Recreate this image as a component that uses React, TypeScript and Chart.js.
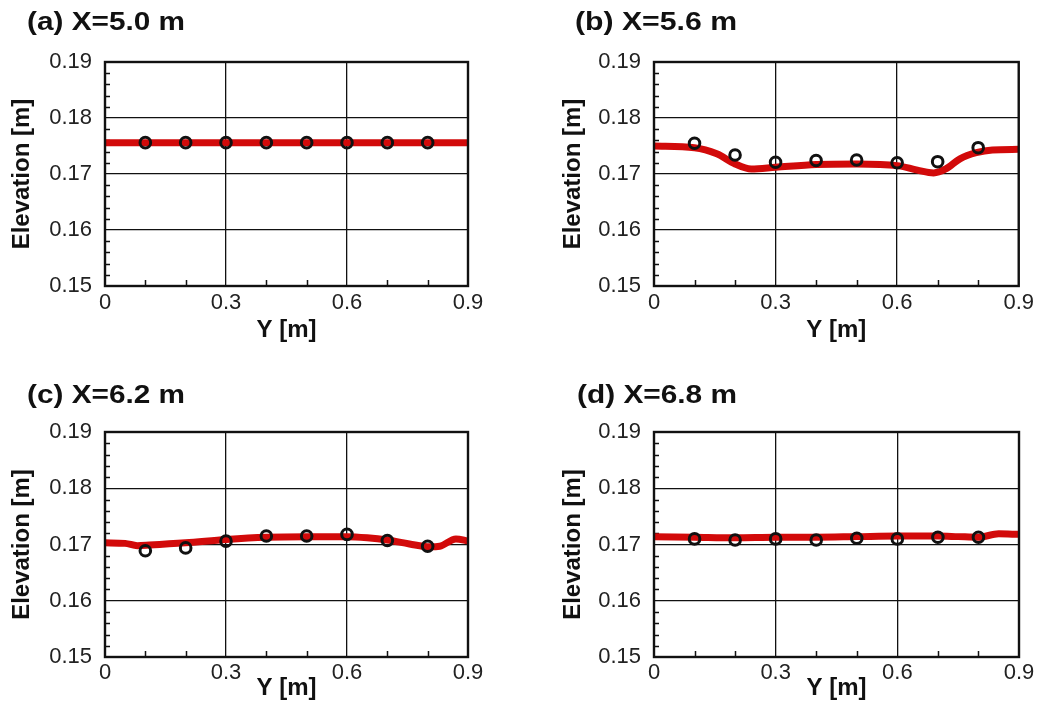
import React, { useEffect, useRef } from "react";
import { Chart, registerables } from "chart.js";

Chart.register(...registerables);

// ---------- data ----------
const panelTitles = ["(a) X=5.0 m", "(b) X=5.6 m", "(c) X=6.2 m", "(d) X=6.8 m"];
const xAxisTitle = "Y [m]";
const yAxisTitle = "Elevation [m]";

const xTicks = [0, 0.3, 0.6, 0.9];
const xTickLabels = ["0", "0.3", "0.6", "0.9"];
const yTicks = [0.15, 0.16, 0.17, 0.18, 0.19];
const yTickLabels = ["0.15", "0.16", "0.17", "0.18", "0.19"];
const xMinorTicks = [0.1, 0.2, 0.4, 0.5, 0.7, 0.8];
const yMinorTicks = [
  0.152, 0.154, 0.156, 0.158, 0.162, 0.164, 0.166, 0.168,
  0.172, 0.174, 0.176, 0.178, 0.182, 0.184, 0.186, 0.188,
];

// measured (circles)
const obsY = [0.1, 0.2, 0.3, 0.4, 0.5, 0.6, 0.7, 0.8];
const obsA = [0.1756, 0.1756, 0.1756, 0.1756, 0.1756, 0.1756, 0.1756, 0.1756];
const obsB = [0.1755, 0.1734, 0.1721, 0.1724, 0.1725, 0.172, 0.1722, 0.1747];
const obsC = [0.1689, 0.1694, 0.1706, 0.1715, 0.1715, 0.1718, 0.1707, 0.1697];
const obsD = [0.171, 0.1708, 0.171, 0.1708, 0.1711, 0.171, 0.1713, 0.1713];

// simulated (red line)
const simYA = [0, 0.3, 0.6, 0.9];
const simA = [0.1756, 0.1756, 0.1756, 0.1756];
const simYB = [0, 0.1, 0.155, 0.2, 0.24, 0.3, 0.4, 0.5, 0.6, 0.65, 0.69, 0.72, 0.755, 0.795, 0.835, 0.9];
const simB = [0.175, 0.1747, 0.1736, 0.1718, 0.1709, 0.1712, 0.1717, 0.1718, 0.1715, 0.1707, 0.1702, 0.1709, 0.1727, 0.1738, 0.1743, 0.1744];
const simYC = [0, 0.05, 0.08, 0.11, 0.2, 0.3, 0.4, 0.5, 0.6, 0.65, 0.7, 0.755, 0.805, 0.83, 0.87, 0.9];
const simC = [0.1703, 0.1702, 0.1698, 0.1699, 0.1703, 0.1709, 0.1713, 0.1714, 0.1714, 0.1712, 0.1708, 0.1701, 0.1696, 0.1697, 0.171, 0.1706];
const simYD = [0, 0.1, 0.2, 0.3, 0.4, 0.5, 0.6, 0.7, 0.75, 0.8, 0.85, 0.9];
const simD = [0.1714, 0.1713, 0.1712, 0.1713, 0.1713, 0.1714, 0.1715, 0.1715, 0.1714, 0.1713, 0.1719, 0.1718];

const obsSeries = [obsA, obsB, obsC, obsD];
const simXSeries = [simYA, simYB, simYC, simYD];
const simSeries = [simA, simB, simC, simD];

// ---------- layout (pixels) ----------
const layouts = [
  { left: 0, top: 0, w: 520, h: 355, plotL: 105, plotR: 468, plotT: 62, plotB: 286, titleX: 27, titleY: 23, titleW: 158, yTitleX: 22, xTickPad: 6, xTitleY: 330 },
  { left: 520, top: 0, w: 520, h: 355, plotL: 134, plotR: 499, plotT: 62, plotB: 286, titleX: 55, titleY: 23, titleW: 162, yTitleX: 53, xTickPad: 6, xTitleY: 330 },
  { left: 0, top: 355, w: 520, h: 360, plotL: 105, plotR: 468, plotT: 77, plotB: 302, titleX: 27, titleY: 41, titleW: 158, yTitleX: 22, xTickPad: 5, xTitleY: 333 },
  { left: 520, top: 355, w: 520, h: 360, plotL: 134, plotR: 499, plotT: 77, plotB: 302, titleX: 57, titleY: 41, titleW: 160, yTitleX: 53, xTickPad: 5, xTitleY: 333 },
];

const FONT = '"Liberation Sans", Arial, Helvetica, sans-serif';

function Panel({ idx }: { idx: number }) {
  const ref = useRef<HTMLCanvasElement | null>(null);
  const L = layouts[idx];

  useEffect(() => {
    if (!ref.current) return;
    const obs = obsSeries[idx];
    const simX = simXSeries[idx];
    const sim = simSeries[idx];

    const decor = {
      id: "decor" + idx,
      beforeDatasetsDraw(chart: any) {
        const { ctx, chartArea } = chart;
        const xs = chart.scales.x;
        const ys = chart.scales.y;
        ctx.save();
        ctx.strokeStyle = "#111";
        ctx.lineWidth = 1.5;
        ctx.beginPath();
        yMinorTicks.forEach((v) => {
          const y = Math.round(ys.getPixelForValue(v)) + 0.5;
          ctx.moveTo(chartArea.left, y);
          ctx.lineTo(chartArea.left + 5, y);
        });
        xMinorTicks.forEach((v) => {
          const x = Math.round(xs.getPixelForValue(v)) + 0.5;
          ctx.moveTo(x, chartArea.bottom);
          ctx.lineTo(x, chartArea.bottom - 6);
        });
        ctx.stroke();
        ctx.restore();
      },
      afterDatasetsDraw(chart: any) {
        const { ctx, chartArea } = chart;
        ctx.save();
        ctx.strokeStyle = "#111";
        ctx.lineWidth = 2.4;
        ctx.strokeRect(chartArea.left, chartArea.top, chartArea.right - chartArea.left, chartArea.bottom - chartArea.top);
        ctx.restore();
      },
      afterDraw(chart: any) {
        const { ctx } = chart;
        ctx.save();
        ctx.font = "bold 26px " + FONT;
        ctx.fillStyle = "#111";
        ctx.textBaseline = "middle";
        ctx.textAlign = "left";
        const text = panelTitles[idx];
        const w = ctx.measureText(text).width;
        ctx.translate(L.titleX, L.titleY);
        ctx.scale(L.titleW / w, 1);
        ctx.fillText(text, 0, 0);
        ctx.restore();
      },
    };

    const chart = new Chart(ref.current, {
      type: "scatter",
      data: {
        datasets: [
          {
            label: "Measured",
            data: obsY.map((x, i) => ({ x, y: obs[i] })),
            showLine: false,
            pointStyle: "circle",
            pointRadius: 5.3,
            pointBorderWidth: 3,
            pointBorderColor: "#111",
            pointBackgroundColor: "rgba(0,0,0,0)",
          },
          {
            label: "Simulated",
            data: simX.map((x, i) => ({ x, y: sim[i] })),
            showLine: true,
            borderColor: "#d20a0a",
            borderWidth: 7,
            pointRadius: 0,
            tension: 0.4,
            cubicInterpolationMode: "monotone",
            fill: false,
          },
        ],
      } as any,
      options: {
        responsive: false,
        animation: false,
        devicePixelRatio: 1,
        layout: { padding: { left: 0, right: L.w - L.plotR, top: L.plotT, bottom: 0 } },
        plugins: {
          legend: { display: false },
          tooltip: { enabled: false },
          title: { display: false },
        },
        scales: {
          x: {
            type: "linear",
            min: 0,
            max: 0.9,
            afterBuildTicks: (s: any) => {
              s.ticks = xTicks.map((v) => ({ value: v }));
            },
            afterFit: (s: any) => {
              s.height = L.h - L.plotB;
            },
            grid: { color: "#111", lineWidth: 1.3, drawTicks: false },
            border: { display: false },
            ticks: {
              padding: L.xTickPad,
              autoSkip: false,
              maxRotation: 0,
              color: "#222",
              font: { family: FONT, size: 22, lineHeight: 1 },
              callback: (v: any) => {
                const i = xTicks.findIndex((t) => Math.abs(t - v) < 1e-9);
                return i >= 0 ? xTickLabels[i] : "";
              },
            },
            title: {
              display: true,
              text: xAxisTitle,
              color: "#111",
              font: { family: FONT, size: 24, weight: "bold", lineHeight: 1 },
              padding: { top: 0, bottom: L.h - L.xTitleY - 12 },
            },
          },
          y: {
            type: "linear",
            min: 0.15,
            max: 0.19,
            afterBuildTicks: (s: any) => {
              s.ticks = yTicks.map((v) => ({ value: v }));
            },
            afterFit: (s: any) => {
              s.width = L.plotL;
            },
            grid: { color: "#111", lineWidth: 1.3, drawTicks: false },
            border: { display: false },
            ticks: {
              padding: 13,
              autoSkip: false,
              color: "#222",
              font: { family: FONT, size: 22, lineHeight: 1 },
              callback: (v: any) => {
                const i = yTicks.findIndex((t) => Math.abs(t - v) < 1e-9);
                return i >= 0 ? yTickLabels[i] : "";
              },
            },
            title: {
              display: true,
              text: yAxisTitle,
              color: "#111",
              font: { family: FONT, size: 24, weight: "bold", lineHeight: 1 },
              padding: { top: L.yTitleX - 12, bottom: 0 },
            },
          },
        },
      } as any,
      plugins: [decor],
    });
    return () => chart.destroy();
  }, [idx]);

  return (
    <div style={{ position: "absolute", left: L.left, top: L.top, width: L.w, height: L.h }}>
      <canvas ref={ref} width={L.w} height={L.h} style={{ display: "block", width: L.w, height: L.h }} />
    </div>
  );
}

export default function App() {
  return (
    <div style={{ position: "absolute", left: 0, top: 0, width: 1040, height: 715, background: "#fff", overflow: "hidden" }}>
      {[0, 1, 2, 3].map((i) => (
        <Panel key={i} idx={i} />
      ))}
    </div>
  );
}
